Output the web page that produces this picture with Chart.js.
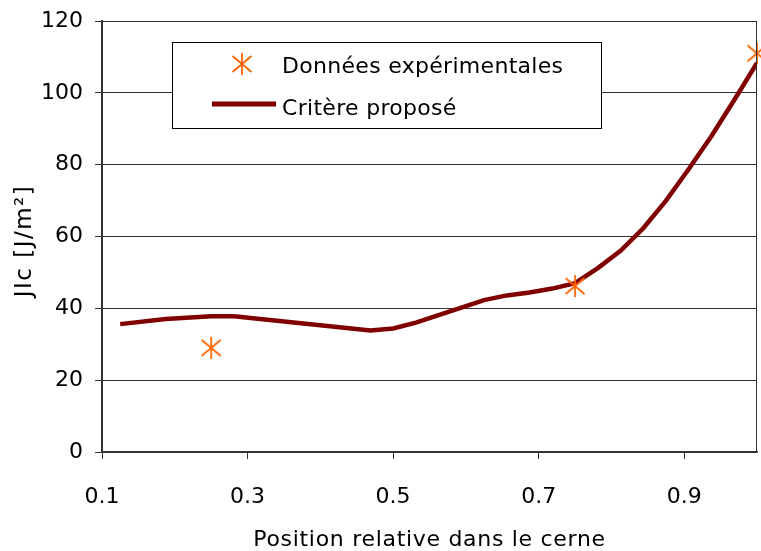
<!DOCTYPE html>
<html>
<head>
<meta charset="utf-8">
<script src="https://cdn.jsdelivr.net/npm/chart.js@4"></script>
<style>
  html, body { margin: 0; padding: 0; background: #fff; }
  canvas { display: block; }
</style>
</head>
<body>
<canvas id="jicChart" width="761" height="551"></canvas>
<script>
// Critère proposé : JIc le long du cerne
const positions = [0.125, 0.1875, 0.25, 0.28125, 0.46875, 0.5, 0.53125, 0.625, 0.65625, 0.6875,
                   0.71875, 0.75, 0.78125, 0.8125, 0.84375, 0.875, 0.90625, 0.9375, 0.96875, 1.0];
const critere = [35.6, 37.0, 37.8, 37.8, 33.8, 34.4, 36.0, 42.3, 43.6, 44.4,
                 45.5, 47.0, 51.2, 56.0, 62.3, 70.0, 78.8, 88.0, 98.0, 108.3];

// Données expérimentales
const expPositions = [0.25, 0.75, 1.0];
const expJic = [29, 46.2, 111];

const xTicks = [0.1, 0.3, 0.5, 0.7, 0.9];
const yTicks = [0, 20, 40, 60, 80, 100, 120];

const xTitle = 'Position relative dans le cerne';
const yTitle = 'JIc [J/m²]';

const lineColor = '#800000';
const starColor = '#ff6600';
const axisColor = '#333';
const fontFamily = '"DejaVu Sans", sans-serif';

Chart.defaults.font.family = fontFamily;
Chart.defaults.font.size = 22;
Chart.defaults.color = '#000';

// asterisk marker: one vertical stroke and two diagonals
function makeStar() {
    const c = document.createElement('canvas');
    c.width = 24; c.height = 24;
    const g = c.getContext('2d');
    g.strokeStyle = starColor;
    g.lineWidth = 1.8;
    g.beginPath();
    g.moveTo(12, 1); g.lineTo(12, 23);
    g.moveTo(2.5, 4); g.lineTo(21.5, 20);
    g.moveTo(21.5, 4); g.lineTo(2.5, 20);
    g.stroke();
    return c;
}
const star = makeStar();

// frame edge, axis titles and the boxed legend
const decorations = {
    id: 'decorations',
    afterDatasetsDraw(chart) {
        const ctx = chart.ctx;
        const area = chart.chartArea;
        ctx.save();
        ctx.strokeStyle = axisColor;
        ctx.lineWidth = 1;
        ctx.beginPath();
        ctx.moveTo(Math.round(area.right) - 0.5, area.top);
        ctx.lineTo(Math.round(area.right) - 0.5, area.bottom);
        ctx.stroke();

        ctx.fillStyle = '#000';
        ctx.font = '22px ' + fontFamily;
        ctx.textAlign = 'center';
        ctx.textBaseline = 'alphabetic';
        ctx.letterSpacing = '0.7px';
        ctx.fillText(xTitle, (area.left + area.right) / 2, 546);

        ctx.save();
        ctx.translate(31, 241);
        ctx.rotate(-Math.PI / 2);
        ctx.font = '23px ' + fontFamily;
        ctx.letterSpacing = '1.5px';
        ctx.fillText(yTitle, 0, 0);
        ctx.restore();

        ctx.letterSpacing = '0px';
        ctx.fillStyle = '#fff';
        ctx.fillRect(172.5, 42.5, 429, 86);
        ctx.strokeStyle = '#000';
        ctx.strokeRect(172.5, 42.5, 429, 86);

        ctx.drawImage(star, 242 - 12, 64 - 12);
        ctx.strokeStyle = lineColor;
        ctx.lineWidth = 5;
        ctx.beginPath();
        ctx.moveTo(212, 104);
        ctx.lineTo(276, 104);
        ctx.stroke();

        ctx.fillStyle = '#000';
        ctx.textAlign = 'left';
        ctx.letterSpacing = '0.3px';
        ctx.fillText('Données expérimentales', 282, 73);
        ctx.fillText('Critère proposé', 282, 115);
        ctx.restore();
    }
};

new Chart(document.getElementById('jicChart'), {
    type: 'scatter',
    data: {
        datasets: [{
            label: 'Critère proposé',
            data: positions.map((x, i) => ({ x: x, y: critere[i] })),
            showLine: true,
            borderColor: lineColor,
            backgroundColor: lineColor,
            borderWidth: 4.5,
            pointRadius: 0,
            tension: 0,
            order: 2
        }, {
            label: 'Données expérimentales',
            data: expPositions.map((x, i) => ({ x: x, y: expJic[i] })),
            pointStyle: star,
            pointRadius: 12,
            clip: false,
            order: 1
        }]
    },
    options: {
        responsive: false,
        animation: false,
        devicePixelRatio: 1,
        layout: { autoPadding: false, padding: { left: 0, right: 4, top: 21, bottom: 0 } },
        plugins: {
            legend: { display: false },
            tooltip: { enabled: false }
        },
        scales: {
            x: {
                type: 'linear',
                min: 0.1,
                max: 1.0,
                afterBuildTicks: axis => { axis.ticks = xTicks.map(v => ({ value: v })); },
                afterFit: axis => { axis.height = 99; },
                ticks: {
                    padding: 25,
                    maxRotation: 0,
                    callback: v => v.toFixed(1)
                },
                grid: {
                    drawOnChartArea: false,
                    drawTicks: true,
                    tickLength: 7,
                    color: axisColor
                },
                border: { color: axisColor, width: 1.5 }
            },
            y: {
                min: 0,
                max: 120,
                afterBuildTicks: axis => { axis.ticks = yTicks.map(v => ({ value: v })); },
                afterFit: axis => { axis.width = 102; axis.paddingTop = 0; axis.paddingBottom = 0; },
                ticks: { padding: 12 },
                grid: {
                    color: axisColor,
                    lineWidth: 1,
                    tickLength: 7
                },
                border: { color: axisColor, width: 2 }
            }
        }
    },
    plugins: [decorations]
});
</script>
</body>
</html>
